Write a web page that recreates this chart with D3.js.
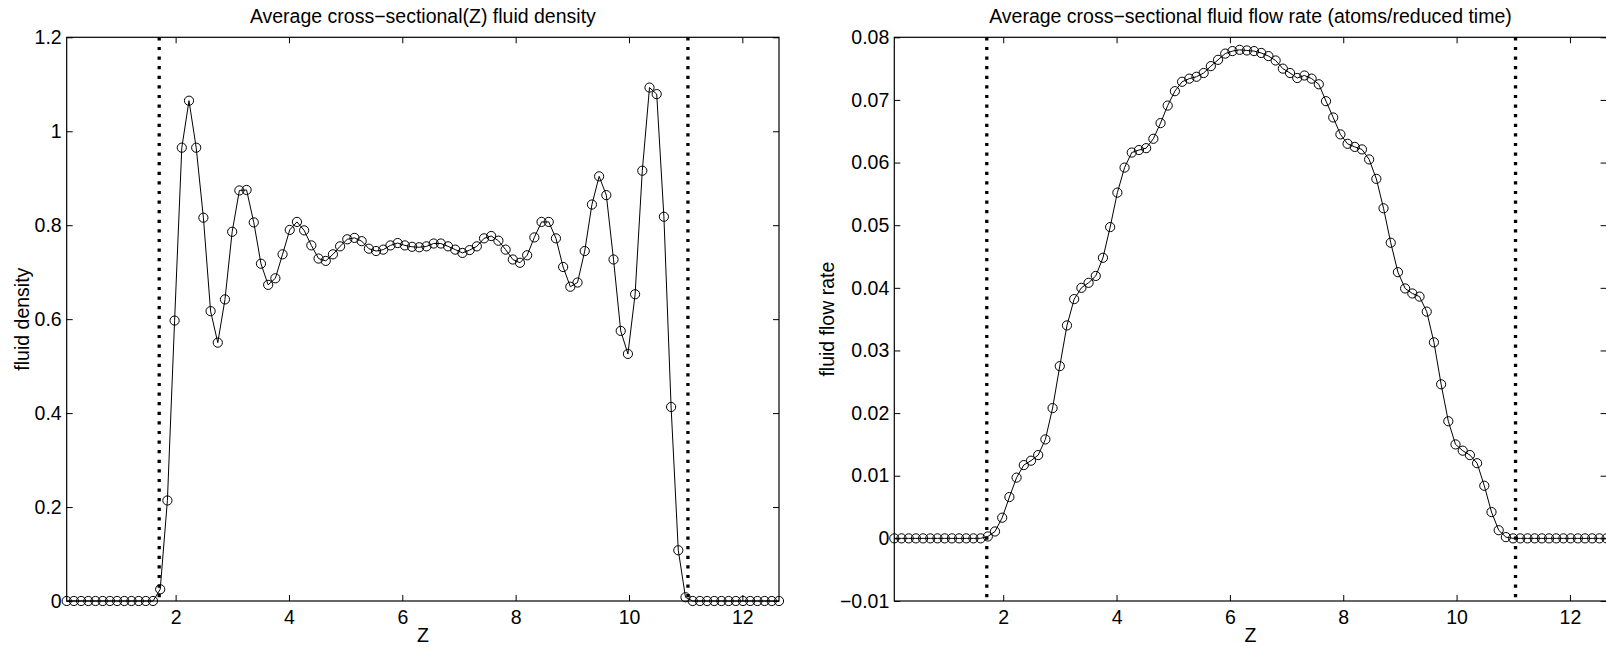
<!DOCTYPE html>
<html>
<head>
<meta charset="utf-8">
<script src="https://d3js.org/d3.v7.min.js"></script>
<style>
  html, body { margin: 0; padding: 0; background: #fff; }
  svg { display: block; }
  text { font-family: "Liberation Sans", Arial, Helvetica, sans-serif; fill: #000; }
</style>
</head>
<body>
<svg id="chart" width="1606" height="647"></svg>
<script>
// ---------------- DATA ----------------
const zValues = [0.078,0.205,0.332,0.459,0.586,0.713,0.840,0.967,1.094,1.221,
  1.348,1.474,1.601,1.728,1.855,1.982,2.109,2.236,2.363,2.490,
  2.617,2.744,2.871,2.998,3.125,3.252,3.379,3.506,3.633,3.760,
  3.887,4.014,4.141,4.268,4.395,4.522,4.649,4.776,4.902,5.029,
  5.156,5.283,5.410,5.537,5.664,5.791,5.918,6.045,6.172,6.299,
  6.426,6.553,6.680,6.807,6.934,7.061,7.188,7.315,7.442,7.569,
  7.696,7.823,7.950,8.076,8.203,8.330,8.457,8.584,8.711,8.838,
  8.965,9.092,9.219,9.346,9.473,9.600,9.727,9.854,9.981,10.108,
  10.235,10.362,10.489,10.616,10.743,10.870,10.997,11.124,11.251,11.378,
  11.504,11.631,11.758,11.885,12.012,12.139,12.266,12.393,12.520,12.647];

const densityValues = [0,0,0,0,0,0,0,0,0,0,
  0,0,0,0.025,0.214,0.597,0.965,1.065,0.965,0.816,
  0.617,0.550,0.642,0.786,0.874,0.875,0.806,0.718,0.673,0.687,
  0.738,0.790,0.807,0.789,0.757,0.729,0.724,0.738,0.755,0.770,
  0.773,0.766,0.750,0.745,0.748,0.757,0.762,0.757,0.754,0.753,
  0.755,0.761,0.761,0.755,0.748,0.741,0.747,0.755,0.772,0.777,
  0.767,0.748,0.727,0.720,0.736,0.774,0.807,0.807,0.772,0.711,
  0.669,0.678,0.745,0.844,0.904,0.864,0.727,0.575,0.526,0.653,
  0.916,1.093,1.079,0.818,0.413,0.108,0.008,0,0,0,
  0,0,0,0,0,0,0,0,0,0];

const flowValues = [0,0,0,0,0,0,0,0,0,0,
  0,0,0,0.0003,0.0011,0.0033,0.0066,0.0097,0.0117,0.0124,
  0.0133,0.0158,0.0208,0.0275,0.0340,0.0382,0.0400,0.0408,0.0419,0.0448,
  0.0497,0.0552,0.0592,0.0616,0.0620,0.0623,0.0638,0.0663,0.0691,0.0714,
  0.0729,0.0734,0.0737,0.0743,0.0754,0.0764,0.0774,0.0778,0.0780,0.0779,
  0.0778,0.0775,0.0770,0.0763,0.0750,0.0743,0.0735,0.0739,0.0734,0.0725,
  0.0698,0.0672,0.0645,0.0630,0.0625,0.0621,0.0605,0.0574,0.0527,0.0472,
  0.0425,0.0399,0.0391,0.0386,0.0362,0.0313,0.0246,0.0187,0.0150,0.0140,
  0.0133,0.0120,0.0084,0.0042,0.0013,0.0002,0,0,0,0,
  0,0,0,0,0,0,0,0,0,0];

const wallZ = [1.71, 11.04];

const xTickValues = [2, 4, 6, 8, 10, 12];
const xTickLabels = ["2", "4", "6", "8", "10", "12"];

const densityTickValues = [0, 0.2, 0.4, 0.6, 0.8, 1, 1.2];
const densityTickLabels = ["0", "0.2", "0.4", "0.6", "0.8", "1", "1.2"];

const flowTickValues = [-0.01, 0, 0.01, 0.02, 0.03, 0.04, 0.05, 0.06, 0.07, 0.08];
const flowTickLabels = ["\u22120.01", "0", "0.01", "0.02", "0.03", "0.04", "0.05", "0.06", "0.07", "0.08"];

const panels = [
  {
    title: "Average cross\u2212sectional(Z) fluid density",
    ylabel: "fluid density",
    xlabel: "Z",
    values: densityValues,
    yDomain: [0, 1.2],
    yTicks: densityTickValues,
    yLabels: densityTickLabels,
    left: 66.7, right: 779, ylabelX: 29
  },
  {
    title: "Average cross\u2212sectional fluid flow rate (atoms/reduced time)",
    ylabel: "fluid flow rate",
    xlabel: "Z",
    values: flowValues,
    yDomain: [-0.01, 0.08],
    yTicks: flowTickValues,
    yLabels: flowTickLabels,
    left: 894.3, right: 1606.6, ylabelX: 834
  }
];

// ---------------- DRAW ----------------
const svg = d3.select("#chart");
const plotTop = 37.3, plotBottom = 601;
const fontSize = 19.5;
const tickLen = 6;

panels.forEach(p => {
  const x = d3.scaleLinear().domain([zValues[0], zValues[zValues.length - 1]]).range([p.left, p.right]);
  const y = d3.scaleLinear().domain(p.yDomain).range([plotBottom, plotTop]);
  const g = svg.append("g");

  const fmtX = (d, i) => xTickLabels[i];
  const fmtY = (d, i) => p.yLabels[i];

  const bx = g.append("g").attr("transform", `translate(0,${plotBottom})`)
    .call(d3.axisBottom(x).tickValues(xTickValues).tickFormat(fmtX)
      .tickSizeInner(-tickLen).tickSizeOuter(0).tickPadding(9.5));
  const tx = g.append("g").attr("transform", `translate(0,${plotTop})`)
    .call(d3.axisTop(x).tickValues(xTickValues).tickFormat("")
      .tickSizeInner(-tickLen).tickSizeOuter(0));
  const ly = g.append("g").attr("transform", `translate(${p.left},0)`)
    .call(d3.axisLeft(y).tickValues(p.yTicks).tickFormat(fmtY)
      .tickSizeInner(-tickLen).tickSizeOuter(0).tickPadding(5));
  const ry = g.append("g").attr("transform", `translate(${p.right},0)`)
    .call(d3.axisRight(y).tickValues(p.yTicks).tickFormat("")
      .tickSizeInner(-tickLen).tickSizeOuter(0));

  [bx, tx, ly, ry].forEach(a => {
    a.select(".domain").remove();
    a.selectAll(".tick line").attr("stroke", "#000").attr("stroke-width", 1);
    a.selectAll(".tick text").attr("font-size", fontSize)
      .attr("font-family", "Liberation Sans, Arial, sans-serif").attr("fill", "#000");
  });

  g.append("rect")
    .attr("x", p.left).attr("y", plotTop)
    .attr("width", p.right - p.left).attr("height", plotBottom - plotTop)
    .attr("fill", "none").attr("stroke", "#000").attr("stroke-width", 1.2);

  g.selectAll("line.wall").data(wallZ).enter().append("line")
    .attr("class", "wall")
    .attr("x1", d => x(d)).attr("x2", d => x(d))
    .attr("y1", plotTop).attr("y2", plotBottom)
    .attr("stroke", "#000").attr("stroke-width", 3.3)
    .attr("stroke-dasharray", "3.2,6.4");

  const pts = zValues.map((z, i) => [z, p.values[i]]);
  g.append("path")
    .datum(pts)
    .attr("fill", "none").attr("stroke", "#000").attr("stroke-width", 1)
    .attr("d", d3.line().x(d => x(d[0])).y(d => y(d[1])));

  g.selectAll("circle.m").data(pts).enter().append("circle")
    .attr("class", "m")
    .attr("cx", d => x(d[0])).attr("cy", d => y(d[1]))
    .attr("r", 4.6)
    .attr("fill", "none").attr("stroke", "#000").attr("stroke-width", 1);

  g.append("text")
    .attr("x", (p.left + p.right) / 2).attr("y", 22.5)
    .attr("text-anchor", "middle").attr("font-size", fontSize)
    .text(p.title);

  g.append("text")
    .attr("x", (p.left + p.right) / 2).attr("y", 642)
    .attr("text-anchor", "middle").attr("font-size", fontSize)
    .text(p.xlabel);

  g.append("text")
    .attr("transform", `translate(${p.ylabelX},${(plotTop + plotBottom) / 2}) rotate(-90)`)
    .attr("text-anchor", "middle").attr("font-size", fontSize)
    .text(p.ylabel);
});
</script>
</body>
</html>
